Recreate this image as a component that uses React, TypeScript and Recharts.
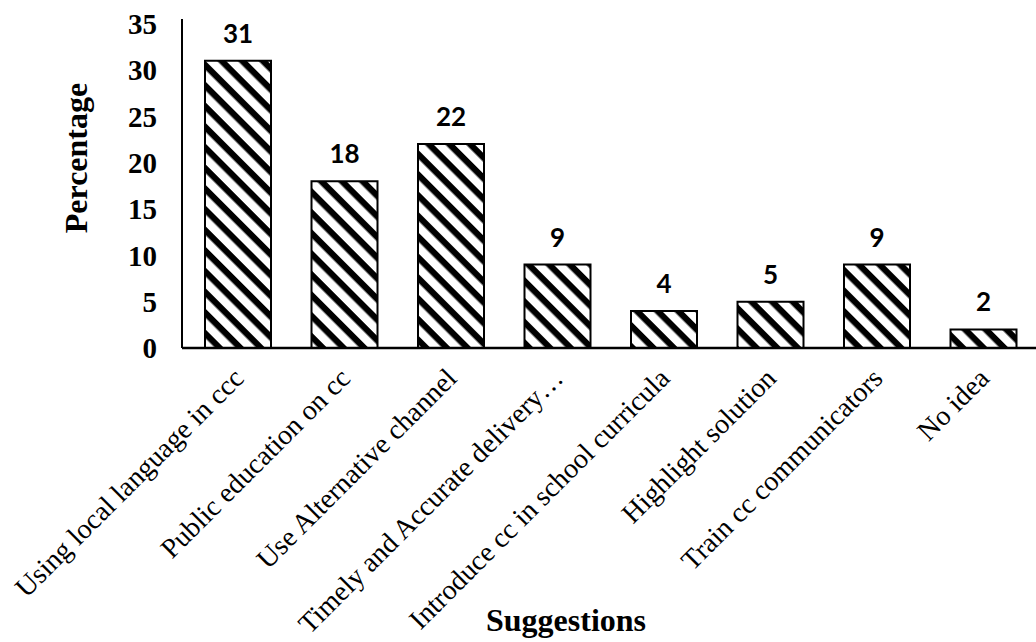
import React from 'react';
import { BarChart, Bar, XAxis, YAxis, LabelList } from 'recharts';

const categories = [
  'Using local language in ccc',
  'Public education on cc',
  'Use Alternative channel',
  'Timely and Accurate delivery…',
  'Introduce cc in school curricula',
  'Highlight solution',
  'Train cc communicators',
  'No idea',
];
const values = [31, 18, 22, 9, 4, 5, 9, 2];
const yTicks = [0, 5, 10, 15, 20, 25, 30, 35];

const data = categories.map((name, i) => ({ name, value: values[i] }));

const SERIF = '"Liberation Serif", "Times New Roman", Times, serif';

const CatTick = (props: any) => {
  const { x, y, payload } = props;
  return (
    <text
      x={0}
      y={0}
      transform={`translate(${x + 7},${y + 32}) rotate(-45)`}
      textAnchor="end"
      fontFamily={SERIF}
      fontSize={28}
      fill="#000"
    >
      {payload.value}
    </text>
  );
};

export default function App() {
  return (
    <div style={{ position: 'absolute', left: 0, top: 0, width: 1036, height: 642, overflow: 'hidden', background: '#fff' }}>
      <svg width={0} height={0} style={{ position: 'absolute' }}>
        <defs>
          <pattern id="hatch" patternUnits="userSpaceOnUse" width={14.6} height={14.6} patternTransform="rotate(45)">
            <rect x={0} y={0} width={14.6} height={14.6} fill="#fff" />
            <rect x={0} y={0} width={14.6} height={6.3} fill="#000" />
          </pattern>
        </defs>
      </svg>
      <BarChart width={1040} height={642} data={data} margin={{ top: 19, right: 3, bottom: 0, left: 0 }}>
        <XAxis
          dataKey="name"
          height={294}
          interval={0}
          tick={<CatTick />}
          tickLine={false}
          tickSize={0}
          tickMargin={0}
          axisLine={{ stroke: '#000', strokeWidth: 2.5 }}
          padding={{ left: 3, right: 0 }}
        />
        <YAxis
          width={182}
          domain={[0, 35.5]}
          ticks={yTicks}
          interval={0}
          tickLine={false}
          tickSize={6}
          tickMargin={19}
          axisLine={{ stroke: '#000', strokeWidth: 2 }}
          tick={{ fontFamily: SERIF, fontWeight: 'bold', fontSize: 29, fill: '#000' }}
        />
        <Bar dataKey="value" fill="url(#hatch)" stroke="#000" strokeWidth={2} barSize={66} isAnimationActive={false}>
          <LabelList
            dataKey="value"
            position="top"
            offset={18}
            style={{ fontFamily: 'Lato, "Liberation Sans", Arial, sans-serif', fontWeight: 'bold', fontSize: 26, fill: '#000' }}
          />
        </Bar>
        <text
          x={87}
          y={158}
          transform="rotate(-90 87 158)"
          textAnchor="middle"
          fontFamily={SERIF}
          fontWeight="bold"
          fontSize={32}
          fill="#000"
        >
          Percentage
        </text>
        <text x={566} y={631} textAnchor="middle" fontFamily={SERIF} fontWeight="bold" fontSize={32} fill="#000">
          Suggestions
        </text>
      </BarChart>
    </div>
  );
}
